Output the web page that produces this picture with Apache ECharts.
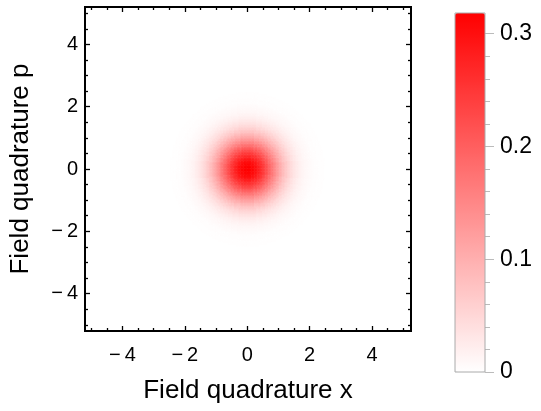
<!DOCTYPE html>
<html>
<head>
<meta charset="utf-8">
<script src="https://cdn.jsdelivr.net/npm/echarts@6/dist/echarts.min.js"></script>
<style>
html, body { margin: 0; padding: 0; background: #fff; }
#chart { width: 541px; height: 411px; }
</style>
</head>
<body>
<div id="chart"></div>
<script>
"use strict";

// value of the blob against distance from the origin (step 0.05)
var radius = [0, 0.05, 0.1, 0.15, 0.2, 0.25, 0.3, 0.35, 0.4, 0.45, 0.5, 0.55, 0.6, 0.65,
    0.7, 0.75, 0.8, 0.85, 0.9, 0.95, 1.0, 1.05, 1.1, 1.15, 1.2, 1.25, 1.3, 1.35,
    1.4, 1.45, 1.5, 1.55, 1.6, 1.65, 1.7, 1.75, 1.8, 1.85, 1.9, 1.95, 2.0, 2.05,
    2.1, 2.15, 2.2, 2.25, 2.3, 2.35, 2.4, 2.45, 2.5];
var density = [0.318, 0.317, 0.315, 0.311, 0.306, 0.299, 0.291, 0.281, 0.271, 0.259,
    0.248, 0.235, 0.222, 0.208, 0.195, 0.181, 0.168, 0.154, 0.141, 0.129,
    0.117, 0.106, 0.095, 0.085, 0.075, 0.067, 0.059, 0.051, 0.045, 0.039,
    0.034, 0.029, 0.025, 0.021, 0.018, 0.015, 0.012, 0.010, 0.0086, 0.0071,
    0.0058, 0.0048, 0.0039, 0.0031, 0.0025, 0.0020, 0.0016, 0.0013, 0.0010, 0.0008,
    0.0006];
var cellStep = 0.05;

var axisTicks = [-4, -2, 0, 2, 4];
var axisMinor = [-5, -4.5, -3.5, -3, -2.5, -1.5, -1, -0.5, 0.5, 1, 1.5, 2.5, 3, 3.5, 4.5, 5];
var barTicks = [0, 0.1, 0.2, 0.3];
var barMinor = [0.02, 0.04, 0.06, 0.08, 0.12, 0.14, 0.16, 0.18, 0.22, 0.24, 0.26, 0.28];
var barMax = 0.3183;

var font = "'Liberation Sans', Arial, sans-serif";

// grid cells, each one takes the profile value nearest its distance
var cells = [];
var n = radius.length;
for (var i = -n; i <= n; i++) {
    for (var j = -n; j <= n; j++) {
        var k = Math.round(Math.sqrt(i * i + j * j));
        if (k < n) cells.push([i * cellStep, j * cellStep, density[k]]);
    }
}

function tickLabel(v) {
    return v < 0 ? "\u2212\u2009" + (-v) : String(v);
}

function frameAxis(pos, ticks, len, withLabels, extra) {
    var ax = {
        type: "value",
        gridIndex: 0,
        position: pos,
        min: -5.2,
        max: 5.2,
        axisLine: { show: false, onZero: false },
        splitLine: { show: false },
        axisTick: {
            show: true, inside: true, length: len, customValues: ticks,
            lineStyle: { color: "#000", width: 1.3 }
        },
        axisLabel: withLabels ? {
            show: true, customValues: ticks, formatter: tickLabel,
            fontSize: 20, fontFamily: font, color: "#000"
        } : { show: false }
    };
    for (var key in extra) ax[key] = extra[key];
    return ax;
}

var xAxes = [
    frameAxis("bottom", axisTicks, 5, true, {
        max: 5.25,
        name: "Field quadrature x", nameLocation: "middle", nameGap: 47,
        nameTextStyle: { fontSize: 26, fontFamily: font, color: "#000" }
    }),
    frameAxis("bottom", axisMinor, 3, false, { max: 5.25 }),
    frameAxis("top", axisTicks, 5, false, { max: 5.25 }),
    frameAxis("top", axisMinor, 3, false, { max: 5.25 }),
    { type: "value", gridIndex: 1, min: 0, max: 1, show: false }
];
xAxes[0].axisLabel.margin = 14;

var yAxes = [
    frameAxis("left", axisTicks, 5, true, {
        name: "Field quadrature p", nameLocation: "middle", nameGap: 51,
        nameTextStyle: { fontSize: 26, fontFamily: font, color: "#000" }
    }),
    frameAxis("left", axisMinor, 3, false, {}),
    frameAxis("right", axisTicks, 5, false, {}),
    frameAxis("right", axisMinor, 3, false, {}),
    {
        type: "value", gridIndex: 1, position: "right", min: 0, max: barMax,
        axisLine: { show: false, onZero: false }, splitLine: { show: false },
        axisTick: { show: true, length: 9, customValues: barTicks, lineStyle: { color: "#bbb", width: 1 } },
        axisLabel: { show: true, customValues: barTicks, margin: 15, fontSize: 23, fontFamily: font, color: "#000" }
    },
    {
        type: "value", gridIndex: 1, position: "right", min: 0, max: barMax,
        axisLine: { show: false, onZero: false }, splitLine: { show: false },
        axisTick: { show: true, length: 5, customValues: barMinor, lineStyle: { color: "#bbb", width: 1 } },
        axisLabel: { show: false }
    }
];
yAxes[0].axisLabel.margin = 7;

var chart = echarts.init(document.getElementById("chart"));
chart.setOption({
    animation: false,
    grid: [
        { left: 85, top: 7, width: 326, height: 324, show: true, borderColor: "#000", borderWidth: 2, backgroundColor: "transparent" },
        { left: 455, top: 13, width: 30, height: 359, show: true, borderColor: "#aaa", borderWidth: 1, backgroundColor: "transparent", z: 10 }
    ],
    xAxis: xAxes,
    yAxis: yAxes,
    visualMap: {
        type: "continuous",
        min: 0,
        max: barMax,
        dimension: 2,
        seriesIndex: 0,
        calculable: false,
        hoverLink: false,
        left: 455,
        top: 13,
        itemWidth: 30,
        itemHeight: 359,
        padding: 0,
        inRange: { color: ["#ffffff", "#ff0000"] }
    },
    series: [{
        type: "custom",
        xAxisIndex: 0,
        yAxisIndex: 0,
        silent: true,
        progressive: 0,
        data: cells,
        renderItem: function (params, api) {
            var x = api.value(0), y = api.value(1);
            var p0 = api.coord([x - cellStep / 2, y + cellStep / 2]);
            var p1 = api.coord([x + cellStep / 2, y - cellStep / 2]);
            return {
                type: "rect",
                shape: { x: p0[0], y: p0[1], width: p1[0] - p0[0] + 0.5, height: p1[1] - p0[1] + 0.5 },
                style: { fill: api.visual("color") }
            };
        }
    }]
});
</script>
</body>
</html>
